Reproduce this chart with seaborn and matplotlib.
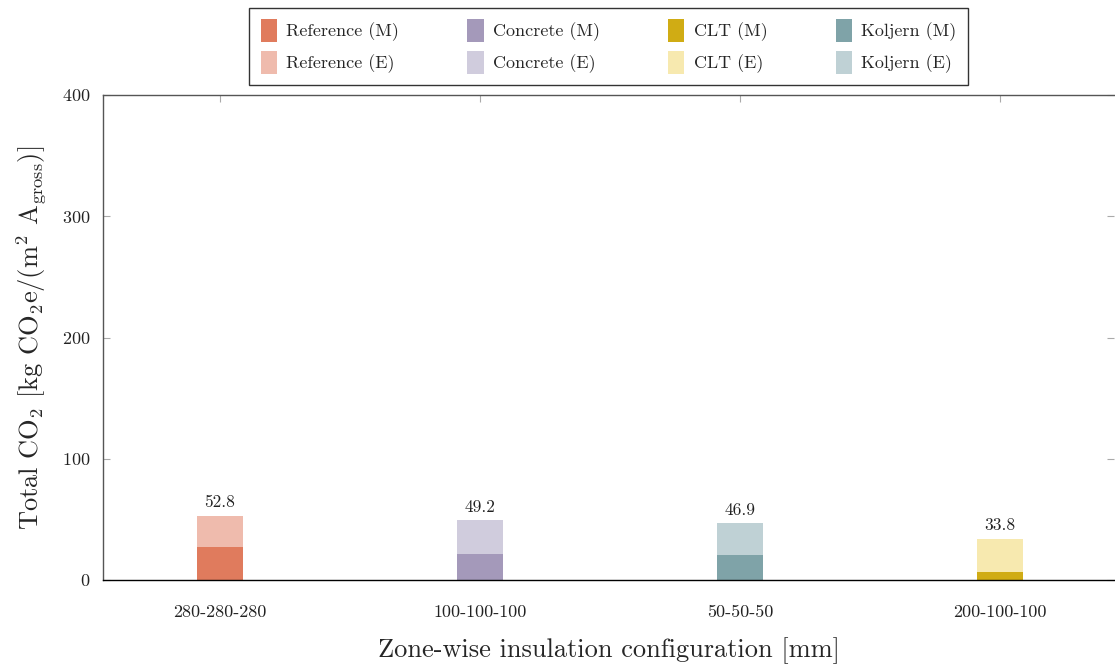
import matplotlib
matplotlib.use("Agg")
import matplotlib.pyplot as plt
import seaborn as sns
import pandas as pd
from matplotlib.patches import Patch

# data
configs = ["280-280-280", "100-100-100", "50-50-50", "200-100-100"]
materials = ["Reference", "Concrete", "CLT", "Koljern"]
mat_of_config = ["Reference", "Concrete", "Koljern", "CLT"]
material_co2 = [27.0, 21.4, 20.6, 6.9]      # (M) part
total_co2 = [52.8, 49.2, 46.9, 33.8]        # (M) + (E)

colors_m = {"Reference": "#E07B5D", "Concrete": "#A499BA", "CLT": "#D0AC14", "Koljern": "#7FA3A8"}
colors_e = {"Reference": "#EFBBAD", "Concrete": "#D0CCDD", "CLT": "#F7E9AF", "Koljern": "#BFD1D5"}

df = pd.DataFrame({"config": configs, "material": mat_of_config,
                   "M": material_co2, "total": total_co2})

sns.set_style("white")
plt.rcParams["font.family"] = ["cmr10", "DejaVu Serif"]
plt.rcParams["mathtext.fontset"] = "cm"
plt.rcParams["axes.formatter.use_mathtext"] = True
plt.rcParams["axes.unicode_minus"] = False

fig = plt.figure(figsize=(11.15, 6.65), dpi=100)
ax = fig.add_axes([103 / 1115, 1 - 580 / 665, 1011 / 1115, 485 / 665])

bar_w = 0.177
sns.barplot(data=df, x="config", y="total", hue="material",
            palette=colors_e, width=bar_w, dodge=False, legend=False,
            saturation=1, ax=ax)
for c in ax.containers:
    ax.bar_label(c, fmt="%.1f", padding=4, fontsize=12.5, color="#222222")
sns.barplot(data=df, x="config", y="M", hue="material",
            palette=colors_m, width=bar_w, dodge=False, legend=False,
            saturation=1, ax=ax)
for p in ax.patches:
    p.set_edgecolor("none")

ax.set_xlim(-0.45, 3.438)
ax.set_ylim(0, 400)
ax.set_yticks([0, 100, 200, 300, 400])
ax.tick_params(axis="both", labelsize=13, labelcolor="#222222")
ax.tick_params(axis="y", direction="in", length=5, color="#aaaaaa",
               left=True, right=True, pad=9)
ax.tick_params(axis="x", direction="in", length=5, color="#aaaaaa",
               bottom=False, top=True, pad=18)
for s in ["left", "top"]:
    ax.spines[s].set_color("#555555")
ax.spines["bottom"].set_color("black")
ax.spines["right"].set_visible(False)
for s in ax.spines.values():
    s.set_linewidth(1.0)

ax.set_xlabel("Zone-wise insulation configuration [mm]", fontsize=19, labelpad=12)
ax.set_ylabel(r"Total CO$_2$ [kg CO$_2$e/(m$^2$ A$_{\mathrm{gross}}$)]", fontsize=19, labelpad=10)

handles = []
for m in materials:
    handles.append(Patch(facecolor=colors_m[m], edgecolor="none", label=f"{m} (M)"))
    handles.append(Patch(facecolor=colors_e[m], edgecolor="none", label=f"{m} (E)"))
leg = ax.legend(handles=handles, ncol=4, loc="lower center", bbox_to_anchor=(0.5, 1.02),
                borderaxespad=0, fontsize=13, frameon=True, fancybox=False, edgecolor="black",
                handlelength=0.9, handleheight=1.55, columnspacing=3.8,
                handletextpad=0.5, borderpad=0.65, labelspacing=0.5)
leg.get_frame().set_linewidth(1.0)

fig.savefig("out.png", dpi=100)
